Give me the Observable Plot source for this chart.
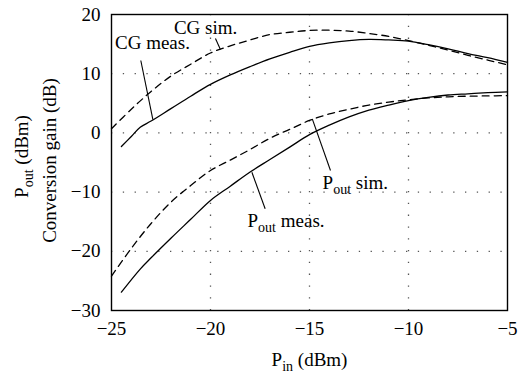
<!DOCTYPE html>
<html>
<head>
<meta charset="utf-8">
<script src="https://cdn.jsdelivr.net/npm/d3@7"></script>
<script src="https://cdn.jsdelivr.net/npm/@observablehq/plot@0.6"></script>
<style>
  html, body { margin: 0; padding: 0; background: #fff; }
</style>
</head>
<body>
<div id="chart"></div>
<script>
// ---- data ----
const cgSimX   = [-25, -24, -23, -22, -21, -20, -19, -18, -17, -16, -15, -14, -13, -12, -11, -10, -9, -8, -7, -6, -5];
const cgSim    = [0.7, 4.0, 7.0, 9.6, 11.6, 13.5, 14.7, 15.7, 16.6, 17.0, 17.3, 17.35, 17.2, 16.8, 16.3, 15.6, 14.8, 14.0, 13.1, 12.3, 11.5];

const cgMeasX  = [-24.5, -24, -23.55, -23, -22, -21, -20, -19, -18, -17, -16, -15, -14, -13, -12, -11, -10, -9, -8, -7, -6, -5];
const cgMeas   = [-2.3, -0.6, 0.96, 2.0, 4.1, 6.2, 8.2, 9.8, 11.2, 12.5, 13.6, 14.6, 15.2, 15.6, 15.8, 15.7, 15.5, 14.9, 14.2, 13.4, 12.7, 11.9];

const poutSimX = [-25, -24, -23, -22, -21, -20, -19, -18, -17, -16, -15, -14, -13, -12, -11, -10, -9, -8, -7, -6, -5];
const poutSim  = [-24.2, -19.5, -15.3, -11.7, -8.9, -6.35, -4.6, -2.8, -0.9, 0.6, 2.1, 3.2, 4.0, 4.7, 5.2, 5.6, 5.9, 6.1, 6.2, 6.25, 6.3];

const poutMeasX = [-24.5, -23.55, -23, -22, -21, -20, -19, -18, -17, -16, -15, -14, -13, -12, -11, -10, -9, -8, -7, -6, -5];
const poutMeas  = [-26.9, -23.0, -21.1, -17.8, -14.6, -11.4, -9.0, -6.6, -4.5, -2.4, -0.3, 1.3, 2.7, 3.85, 4.7, 5.45, 6.0, 6.4, 6.6, 6.8, 6.94];

const xTicks = [-25, -20, -15, -10, -5];
const yTicks = [-30, -20, -10, 0, 10, 20];
const xGrid  = [-20, -15, -10];
const yGrid  = [-20, -10, 0, 10];

// annotation labels (data coordinates)
const labelText   = ["CG sim.", "CG meas.", "P_out sim.", "P_out meas."];
const labelX      = [-20.25, -22.93, -14.34, -18.13];
const labelY      = [17.8, 15.27, -8.38, -14.8];
const labelAnchor = ["middle", "middle", "start", "start"];

// leader lines (data coordinates)
const leadX1 = [-19.75, -23.52, -14.86, -17.91];
const leadY1 = [15.95, 12.23, 2.38, -6.64];
const leadX2 = [-19.5, -22.91, -13.94, -17.24];
const leadY2 = [14.1, 2.26, -6.35, -12.82];

const xLabel  = "P_in (dBm)";
const yLabel1 = "P_out (dBm)";
const yLabel2 = "Conversion gain (dB)";

// ---- build tables ----
const toRows = (xs, ys) => xs.map((x, i) => ({x, y: ys[i]}));
const solid  = [toRows(cgMeasX, cgMeas), toRows(poutMeasX, poutMeas)];
const dashed = [toRows(cgSimX, cgSim), toRows(poutSimX, poutSim)];
const labels = labelText.map((t, i) => ({t, x: labelX[i], y: labelY[i], a: labelAnchor[i]}));
const leaders = leadX1.map((x1, i) => ({x1, y1: leadY1[i], x2: leadX2[i], y2: leadY2[i]}));

const FONT = "'Liberation Serif', 'DejaVu Serif', serif";
const FS = 19;

const chart = Plot.plot({
  width: 525,
  height: 374,
  marginLeft: 111,
  marginRight: 18,
  marginTop: 14,
  marginBottom: 64,
  style: {fontFamily: FONT, fontSize: FS + "px", background: "white", color: "black"},
  x: {domain: [-25, -5]},
  y: {domain: [-30, 20]},
  marks: [
    Plot.gridX(xGrid, {stroke: "#555", strokeOpacity: 1, strokeWidth: 1.3, strokeDasharray: "1.3,10.5"}),
    Plot.gridY(yGrid, {stroke: "#555", strokeOpacity: 1, strokeWidth: 1.3, strokeDasharray: "1.3,10.5"}),
    Plot.axisX(xTicks, {tickSize: 0, tickPadding: 11, label: null, fontSize: FS}),
    Plot.axisY(yTicks, {tickSize: 0, tickPadding: 11, label: null, fontSize: FS}),
    ...solid.map(d => Plot.line(d, {x: "x", y: "y", stroke: "black", strokeWidth: 1.3, curve: "catmull-rom"})),
    ...dashed.map(d => Plot.line(d, {x: "x", y: "y", stroke: "black", strokeWidth: 1.3, strokeDasharray: "7,5", curve: "catmull-rom"})),
    Plot.link(leaders, {x1: "x1", y1: "y1", x2: "x2", y2: "y2", stroke: "black", strokeWidth: 1.1}),
    Plot.text(labels.filter(d => d.a === "middle"), {x: "x", y: "y", text: "t", textAnchor: "middle", fontSize: FS}),
    Plot.text(labels.filter(d => d.a === "start"), {x: "x", y: "y", text: "t", textAnchor: "start", fontSize: FS}),
    Plot.text([xLabel], {text: d => d, frameAnchor: "bottom", textAnchor: "middle", lineAnchor: "middle", dy: 49, fontSize: FS}),
    Plot.text([yLabel1], {text: d => d, frameAnchor: "left", textAnchor: "middle", lineAnchor: "middle", dx: -90, dy: -6, rotate: -90, fontSize: FS}),
    Plot.text([yLabel2], {text: d => d, frameAnchor: "left", textAnchor: "middle", lineAnchor: "middle", dx: -62, dy: -2, rotate: -90, fontSize: FS}),
    Plot.frame({stroke: "black", strokeWidth: 1.4})
  ]
});

// subscripts: "P_out xyz" -> P + subscript "out" + " xyz"
d3.select(chart).selectAll("text").each(function () {
  const t = this.textContent;
  const m = t.match(/^(.*?)_(\w+)(.*)$/);
  if (!m) return;
  const s = d3.select(this);
  s.text(null);
  s.append("tspan").text(m[1]);
  s.append("tspan").attr("dy", 5).attr("font-size", 14).text(m[2]);
  s.append("tspan").attr("dy", -5).text(m[3]);
});

document.getElementById("chart").appendChild(chart);
</script>
</body>
</html>
